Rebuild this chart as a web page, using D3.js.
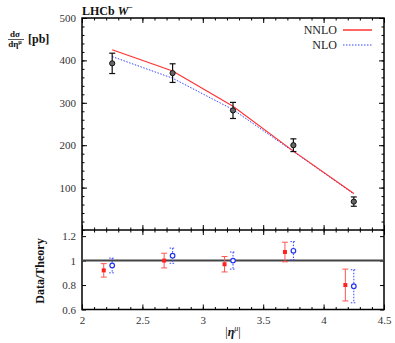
<!DOCTYPE html>
<html>
<head>
<meta charset="utf-8">
<script src="https://cdn.jsdelivr.net/npm/d3@7"></script>
<style>
  body { margin: 0; background: #fff; }
  svg text { font-family: "Liberation Serif", "DejaVu Serif", serif; }
  .tick text { fill: #333; font-size: 11px; }
  .domain { display: none; }
</style>
</head>
<body>
<svg id="chart" width="395" height="343"></svg>
<script>
// Data
var etaBins = [2.25, 2.75, 3.25, 3.75, 4.25];
var dataXsec = [393, 370, 282, 200, 67];
var dataErr = [24, 22, 19, 15, 11];
var nnloXsec = [425, 375, 292, 186, 86];
var nloXsec = [409, 358, 284, 185, 85];

var ratioNnloX = [2.18, 2.68, 3.18, 3.68, 4.18];
var ratioNnlo = [0.92, 1.00, 0.97, 1.07, 0.80];
var ratioNnloErr = [0.055, 0.06, 0.063, 0.08, 0.13];
var ratioNloX = [2.25, 2.75, 3.25, 3.75, 4.25];
var ratioNlo = [0.96, 1.04, 1.00, 1.08, 0.79];
var ratioNloErr = [0.06, 0.062, 0.07, 0.075, 0.135];

var xMajor = [2, 2.5, 3, 3.5, 4, 4.5];
var xTickLabels = ["2", "2.5", "3", "3.5", "4", "4.5"];
var yTopMajor = [100, 200, 300, 400, 500];
var yBotMajor = [0.6, 0.8, 1, 1.2];
var yBotLabels = ["0.6", "0.8", "1", "1.2"];

// Layout
var left = 82, right = 384;
var topY = 18, midY = 230, botY = 309.5;

var x = d3.scaleLinear().domain([2, 4.5]).range([left, right]);
var yTop = d3.scaleLinear().domain([0, 500]).range([midY, topY]);
var yBot = d3.scaleLinear().domain([0.6, 1.25]).range([botY, midY]);

var svg = d3.select("#chart");

var xMinor = d3.range(2, 4.5001, 0.1).map(function(v) { return +v.toFixed(2); });
var yTopMinor = d3.range(0, 500.1, 20);

function addAxis(axis, tx, ty) {
    var g = svg.append("g")
        .attr("transform", "translate(" + tx + "," + ty + ")")
        .call(axis)
        .attr("font-family", "Liberation Serif, DejaVu Serif, serif");
    g.selectAll("line").attr("stroke", "#000").attr("stroke-width", 1);
}

// Top panel ticks
addAxis(d3.axisLeft(yTop).tickValues(yTopMajor).tickSize(-5).tickPadding(6).tickFormat(d3.format("d")), left, 0);
addAxis(d3.axisLeft(yTop).tickValues(yTopMinor).tickSize(-2.5).tickFormat(""), left, 0);
addAxis(d3.axisRight(yTop).tickValues(yTopMajor).tickSize(-5).tickFormat(""), right, 0);
addAxis(d3.axisRight(yTop).tickValues(yTopMinor).tickSize(-2.5).tickFormat(""), right, 0);
addAxis(d3.axisTop(x).tickValues(xMajor).tickSize(-5).tickFormat(""), 0, topY);
addAxis(d3.axisTop(x).tickValues(xMinor).tickSize(-2.5).tickFormat(""), 0, topY);
addAxis(d3.axisBottom(x).tickValues(xMajor).tickSize(-5).tickFormat(""), 0, midY);
addAxis(d3.axisBottom(x).tickValues(xMinor).tickSize(-2.5).tickFormat(""), 0, midY);

// Bottom panel ticks
addAxis(d3.axisLeft(yBot).tickValues(yBotMajor).tickSize(-4).tickPadding(6)
    .tickFormat(function(d, i) { return yBotLabels[i]; }), left, 0);
addAxis(d3.axisRight(yBot).tickValues(yBotMajor).tickSize(-4).tickFormat(""), right, 0);
addAxis(d3.axisTop(x).tickValues(xMajor).tickSize(-5).tickFormat(""), 0, midY);
addAxis(d3.axisTop(x).tickValues(xMinor).tickSize(-2.5).tickFormat(""), 0, midY);
addAxis(d3.axisBottom(x).tickValues(xMajor).tickSize(-5).tickPadding(7)
    .tickFormat(function(d, i) { return xTickLabels[i]; }), 0, botY);
addAxis(d3.axisBottom(x).tickValues(xMinor).tickSize(-2.5).tickFormat(""), 0, botY);

// Frames
svg.append("rect").attr("x", left).attr("y", topY)
    .attr("width", right - left).attr("height", botY - topY)
    .attr("fill", "none").attr("stroke", "#000").attr("stroke-width", 1.5);
svg.append("line").attr("x1", left).attr("x2", right)
    .attr("y1", midY).attr("y2", midY)
    .attr("stroke", "#000").attr("stroke-width", 1.5);

// Theory curves
var theoryLine = d3.line()
    .x(function(d, i) { return x(etaBins[i]); })
    .y(function(d) { return yTop(d); });

svg.append("path").datum(nloXsec).attr("d", theoryLine)
    .attr("fill", "none").attr("stroke", "#3344ff").attr("stroke-width", 1)
    .attr("stroke-dasharray", "1.5,1.5");
svg.append("path").datum(nnloXsec).attr("d", theoryLine)
    .attr("fill", "none").attr("stroke", "#ff3333").attr("stroke-width", 1.2);

// Data points
var pts = svg.append("g");
etaBins.forEach(function(eta, i) {
    var cx = x(eta);
    var y1 = yTop(dataXsec[i] + dataErr[i]), y2 = yTop(dataXsec[i] - dataErr[i]);
    pts.append("line").attr("x1", cx).attr("x2", cx).attr("y1", y1).attr("y2", y2)
        .attr("stroke", "#111").attr("stroke-width", 1.2);
    [y1, y2].forEach(function(yy) {
        pts.append("line").attr("x1", cx - 3).attr("x2", cx + 3).attr("y1", yy).attr("y2", yy)
            .attr("stroke", "#111").attr("stroke-width", 1.2);
    });
    pts.append("circle").attr("cx", cx).attr("cy", yTop(dataXsec[i])).attr("r", 2.6)
        .attr("fill", "#666").attr("stroke", "#111").attr("stroke-width", 1);
});

// Ratio = 1 line
svg.append("line").attr("x1", left).attr("x2", right)
    .attr("y1", yBot(1)).attr("y2", yBot(1))
    .attr("stroke", "#444").attr("stroke-width", 2);

// Ratio points
var rp = svg.append("g");
ratioNnloX.forEach(function(eta, i) {
    var cx = x(eta);
    var y1 = yBot(ratioNnlo[i] + ratioNnloErr[i]), y2 = yBot(ratioNnlo[i] - ratioNnloErr[i]);
    rp.append("line").attr("x1", cx).attr("x2", cx).attr("y1", y1).attr("y2", y2)
        .attr("stroke", "#ff5555").attr("stroke-width", 1);
    [y1, y2].forEach(function(yy) {
        rp.append("line").attr("x1", cx - 3).attr("x2", cx + 3).attr("y1", yy).attr("y2", yy)
            .attr("stroke", "#ff5555").attr("stroke-width", 1);
    });
    rp.append("rect").attr("x", cx - 2).attr("y", yBot(ratioNnlo[i]) - 2)
        .attr("width", 4).attr("height", 4).attr("fill", "#ff2222");
});
ratioNloX.forEach(function(eta, i) {
    var cx = x(eta);
    var y1 = yBot(ratioNlo[i] + ratioNloErr[i]), y2 = yBot(ratioNlo[i] - ratioNloErr[i]);
    rp.append("line").attr("x1", cx).attr("x2", cx).attr("y1", y1).attr("y2", y2)
        .attr("stroke", "#3344ff").attr("stroke-width", 1).attr("stroke-dasharray", "1.5,1.5");
    [y1, y2].forEach(function(yy) {
        rp.append("line").attr("x1", cx - 3).attr("x2", cx + 3).attr("y1", yy).attr("y2", yy)
            .attr("stroke", "#3344ff").attr("stroke-width", 1).attr("stroke-dasharray", "1.5,1.5");
    });
    rp.append("circle").attr("cx", cx).attr("cy", yBot(ratioNlo[i])).attr("r", 2.3)
        .attr("fill", "#fff").attr("stroke", "#2233ee").attr("stroke-width", 1.2);
});

// Legend
var legend = [{ name: "NNLO", color: "#ff3333", dash: null, y: 30 },
              { name: "NLO", color: "#3344ff", dash: "1.5,1.5", y: 45 }];
legend.forEach(function(l) {
    svg.append("text").attr("x", 337).attr("y", l.y + 4).attr("text-anchor", "end")
        .attr("font-size", 12).attr("fill", "#222").text(l.name);
    svg.append("line").attr("x1", 343).attr("x2", 372).attr("y1", l.y).attr("y2", l.y)
        .attr("stroke", l.color).attr("stroke-width", l.dash ? 1 : 1.5)
        .attr("stroke-dasharray", l.dash);
});

// Title
var title = svg.append("text").attr("x", 82).attr("y", 15)
    .attr("font-size", 12).attr("font-weight", "bold").attr("fill", "#111");
title.append("tspan").text("LHCb ");
title.append("tspan").attr("font-style", "italic").text("W");
title.append("tspan").attr("font-size", 8).attr("dy", -5).text("\u2212");

// Top y label
var yl = svg.append("g").attr("fill", "#111");
yl.append("text").attr("x", 15).attr("y", 37).attr("text-anchor", "middle")
    .attr("font-size", 9).attr("font-weight", "bold").text("d\u03c3");
yl.append("line").attr("x1", 8).attr("x2", 24).attr("y1", 39.5).attr("y2", 39.5)
    .attr("stroke", "#111").attr("stroke-width", 0.7);
var den = yl.append("text").attr("x", 15).attr("y", 47).attr("text-anchor", "middle")
    .attr("font-size", 9).attr("font-weight", "bold");
den.append("tspan").text("d\u03b7");
den.append("tspan").attr("font-size", 6).attr("dy", -3).text("\u03bc");
yl.append("text").attr("x", 28).attr("y", 43).attr("font-size", 12)
    .attr("font-weight", "bold").text("[pb]");

// Bottom y label
svg.append("text").attr("transform", "translate(44,271) rotate(-90)")
    .attr("text-anchor", "middle").attr("font-size", 12).attr("font-weight", "bold")
    .attr("fill", "#111").text("Data/Theory");

// X label
var xl = svg.append("text").attr("x", 233).attr("y", 336).attr("text-anchor", "middle")
    .attr("font-size", 12).attr("fill", "#111");
xl.append("tspan").text("|");
xl.append("tspan").attr("font-style", "italic").attr("font-weight", "bold").text("\u03b7");
xl.append("tspan").attr("font-size", 8).attr("dy", -5).attr("font-style", "italic").text("\u03bc");
xl.append("tspan").attr("dy", 5).text("|");
</script>
</body>
</html>
